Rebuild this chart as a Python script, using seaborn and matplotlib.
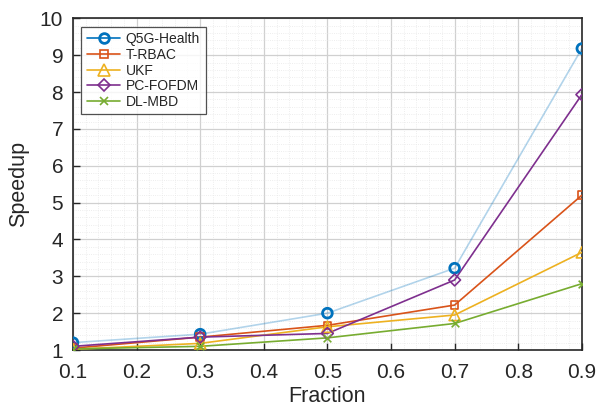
import numpy as np
import pandas as pd
import seaborn as sns
import matplotlib.pyplot as plt
from matplotlib.ticker import MultipleLocator
from matplotlib.lines import Line2D

fraction = [0.1, 0.3, 0.5, 0.7, 0.9]
q5g_health = [1.20, 1.43, 2.00, 3.22, 9.18]
t_rbac = [1.05, 1.35, 1.67, 2.22, 5.20]
ukf = [1.02, 1.18, 1.63, 1.95, 3.65]
pc_fofdm = [1.10, 1.35, 1.45, 2.90, 7.93]
dl_mbd = [1.03, 1.10, 1.33, 1.72, 2.80]

names = ["Q5G-Health", "T-RBAC", "UKF", "PC-FOFDM", "DL-MBD"]
series = [q5g_health, t_rbac, ukf, pc_fofdm, dl_mbd]
colors = ["#0072BD", "#D95319", "#EDB120", "#7E2F8E", "#77AC30"]
markers = ["o", "s", "^", "D", "x"]
msizes = [7, 5.5, 8, 6, 5.5]

df = pd.DataFrame({
    "Fraction": fraction * len(names),
    "Speedup": sum(series, []),
    "Method": [n for n in names for _ in fraction],
})

sns.set_style("ticks")
plt.rcParams["font.family"] = ["Liberation Sans", "DejaVu Sans"]

fig, ax = plt.subplots(figsize=(5.98, 4.07), dpi=100)
fig.subplots_adjust(left=0.122, right=0.973, top=0.955, bottom=0.14)

handles = []
for name, c, m, ms in zip(names, colors, markers, msizes):
    sub = df[df["Method"] == name]
    # Q5G line is drawn pale, markers stay full colour
    line_alpha = 0.3 if name == "Q5G-Health" else 1.0
    mew = 2 if name == "Q5G-Health" else 1.2
    sns.lineplot(data=sub, x="Fraction", y="Speedup", ax=ax, color=c,
                 lw=1.2, alpha=line_alpha, legend=False, zorder=3)
    sns.scatterplot(data=sub, x="Fraction", y="Speedup", ax=ax, marker=m,
                    s=ms ** 2,
                    facecolors="none" if m != "x" else c,
                    edgecolors=c, linewidth=mew,
                    color=c, legend=False, zorder=4)
    handles.append(Line2D([0], [0], color=c, marker=m, markersize=ms,
                          markerfacecolor="none", markeredgecolor=c,
                          markeredgewidth=mew, lw=1.2, label=name))

ax.set_xlim(0.1, 0.9)
ax.set_ylim(1, 10)
ax.xaxis.set_major_locator(MultipleLocator(0.1))
ax.yaxis.set_major_locator(MultipleLocator(1))
ax.xaxis.set_minor_locator(MultipleLocator(0.02))
ax.yaxis.set_minor_locator(MultipleLocator(0.2))
ax.set_xticklabels([f"{v:.1f}" for v in ax.get_xticks()])
ax.grid(which="major", color="#d0d0d0", lw=0.9)
ax.grid(which="minor", color="#e8e8e8", lw=0.6, ls=":")
ax.set_axisbelow(True)
ax.tick_params(which="major", direction="in", length=5, labelsize=15,
               color="#262626", width=1)
ax.tick_params(which="minor", length=0)
ax.tick_params(axis="x", pad=9)
ax.tick_params(axis="y", pad=7)
for sp in ax.spines.values():
    sp.set_visible(True)
    sp.set_color("#262626")
    sp.set_linewidth(1.2)

ax.set_xlabel("Fraction", fontsize=15.5, labelpad=3)
ax.set_ylabel("Speedup", fontsize=15.5, labelpad=8)

leg = ax.legend(handles=handles, loc="upper left", fontsize=10,
                frameon=True, fancybox=False, edgecolor="#262626",
                handlelength=2.4, handletextpad=0.4, borderaxespad=0.6,
                labelspacing=0.12)
leg.get_frame().set_linewidth(0.9)

fig.savefig("out.png", dpi=100)
